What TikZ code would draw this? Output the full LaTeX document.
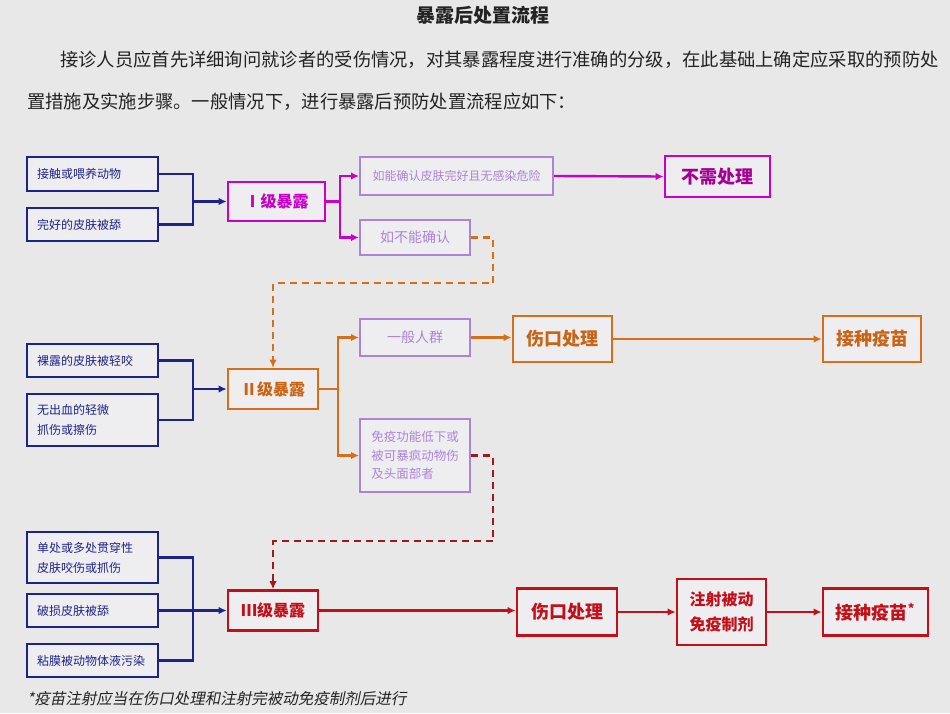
\documentclass[tikz,border=0pt]{standalone}
\usepackage{fontspec}
\setmainfont{Noto Sans CJK SC}
\newfontfamily\slantcjk[FakeSlant=0.2]{Noto Sans CJK SC}
\usepackage{tikz}
\usetikzlibrary{arrows.meta,calc,positioning}
\definecolor{bgc}{RGB}{232,232,232}
\definecolor{boxfill}{RGB}{238,238,240}
\definecolor{navyc}{RGB}{30,35,140}
\definecolor{magc}{RGB}{200,0,200}
\definecolor{magtext}{RGB}{165,0,150}
\definecolor{lavc}{RGB}{172,132,215}
\definecolor{orangec}{RGB}{215,110,25}
\definecolor{orangetext}{RGB}{200,100,20}
\definecolor{redc}{RGB}{195,15,25}
\definecolor{darkredc}{RGB}{160,25,30}
\definecolor{textc}{RGB}{35,35,35}

\begin{document}
\begin{tikzpicture}[x=1pt,y=-1pt,
    inbox/.style={draw=navyc, line width=2.2pt, fill=boxfill, text=navyc,
      font=\fontsize{12}{20}\selectfont, align=left, text width=111pt,
      inner xsep=10pt, inner ysep=0pt},
    lvbox/.style={line width=2.6pt, fill=boxfill, inner sep=0pt,
      font=\bfseries\fontsize{16}{20}\selectfont},
    lavbox/.style={draw=lavc, line width=2pt, fill=boxfill, text=lavc,
      inner sep=0pt, minimum width=110pt, align=left},
    endbox/.style={line width=2.8pt, fill=boxfill, inner sep=0pt,
      font=\bfseries\fontsize{18}{22}\selectfont, align=center},
    link/.style={line width=2.4pt},
    arr/.style={link, -{Latex[length=8pt,width=7.5pt]}},
    dashlink/.style={arr, dash pattern=on 7pt off 5pt}]
  % background and page text
  \fill[bgc] (0,0) rectangle (950,713);
  \useasboundingbox (0,0) rectangle (950,713);
  \node[font=\bfseries\fontsize{19}{22}\selectfont, text=textc] (title) at (483,15) {暴露后处置流程};
  \node[anchor=west, font=\fontsize{18.3}{22}\selectfont, text=textc, inner sep=0pt] (para1) at (60,60)
    {接诊人员应首先详细询问就诊者的受伤情况，对其暴露程度进行准确的分级，在此基础上确定应采取的预防处};
  \node[anchor=west, font=\fontsize{18.3}{22}\selectfont, text=textc, inner sep=0pt] (para2) at (27,102)
    {置措施及实施步骤。一般情况下，进行暴露后预防处置流程应如下：};

  % level I
  \node[inbox, minimum height=34pt] (in1a) at (92.5,174) {接触或喂养动物};
  \node[inbox, minimum height=33pt] (in1b) at (92.5,224.5) {完好的皮肤被舔};
  \node[lvbox, draw=magc, text=magc, minimum width=97pt, minimum height=39pt] (lv1) at (276.5,201.5) {Ⅰ级暴露};
  \node[lavbox, minimum width=193pt, minimum height=38pt, font=\fontsize{12}{16}\selectfont] (ok1) at (456.5,176) {如能确认皮肤完好且无感染危险};
  \node[lavbox, minimum height=35pt, font=\fontsize{14}{16}\selectfont] (no1) at (415,237.5) {如不能确认};
  \node[endbox, draw=magc, text=magtext, minimum width=105pt, minimum height=41pt] (none) at (717.5,176.5) {不需处理};
  \coordinate (j1) at (193,201.5);
  \coordinate (s1) at (340,201.5);
  \coordinate (d1) at (493,283);
  \draw[link, navyc] (in1a.east) -| (j1);
  \draw[link, navyc] (in1b.east) -| (j1);
  \draw[arr, navyc] (j1) -- (lv1.west);
  \draw[link, magc] (lv1.east) -- (s1);
  \draw[arr, magc] (s1) |- (ok1.west);
  \draw[arr, magc] (s1) |- (no1.west);
  \draw[arr, magc] (ok1.east) -- (none.west);

  % level II
  \node[inbox, minimum height=33pt] (in2a) at (92.5,360.5) {裸露的皮肤被轻咬};
  \node[inbox, minimum height=52pt] (in2b) at (92.5,420) {无出血的轻微\\抓伤或擦伤};
  \node[lvbox, draw=orangec, text=orangetext, minimum width=90pt, minimum height=40pt] (lv2) at (273,389) {Ⅱ级暴露};
  \node[lavbox, minimum height=37pt, font=\fontsize{14}{16}\selectfont] (gen2) at (415,337.5) {一般人群};
  \node[lavbox, minimum height=73pt, font=\fontsize{12.5}{18.5}\selectfont] (imm2) at (415,455.5) {免疫功能低下或\\被可暴疯动物伤\\及头面部者};
  \node[endbox, draw=orangec, text=orangetext, minimum width=99pt, minimum height=46pt] (wound2) at (562.5,339) {伤口处理};
  \node[endbox, draw=orangec, text=orangetext, minimum width=98pt, minimum height=46pt] (vac2) at (872,339) {接种疫苗};
  \coordinate (j2) at (193,389);
  \coordinate (s2) at (338,389);
  \coordinate (d2) at (493,541);
  \draw[dashlink, orangec] (no1.east) -| (d1) -| (lv2.north);
  \draw[link, navyc] (in2a.east) -| (j2);
  \draw[link, navyc] (in2b.east) -| (j2);
  \draw[arr, navyc] (j2) -- (lv2.west);
  \draw[link, orangec] (lv2.east) -- (s2);
  \draw[arr, orangec] (s2) |- (gen2.west);
  \draw[arr, orangec] (s2) |- (imm2.west);
  \draw[arr, orangec] (gen2.east) -- (gen2.east -| wound2.west);
  \draw[arr, orangec] (wound2.east) -- (vac2.west);

  % level III
  \node[inbox, minimum height=51pt] (in3a) at (92.5,557.5) {单处或多处贯穿性\\皮肤咬伤或抓伤};
  \node[inbox, minimum height=33pt] (in3b) at (92.5,610.5) {破损皮肤被舔};
  \node[inbox, minimum height=33pt] (in3c) at (92.5,660.5) {粘膜被动物体液污染};
  \node[lvbox, draw=redc, text=redc, minimum width=90pt, minimum height=40pt] (lv3) at (273,610.5) {Ⅲ级暴露};
  \node[endbox, draw=redc, text=redc, minimum width=100pt, minimum height=47pt] (wound3) at (567,612) {伤口处理};
  \node[endbox, draw=redc, text=redc, font=\bfseries\fontsize{16}{25}\selectfont, minimum width=89pt, minimum height=66pt] (serum3) at (721.5,612) {注射被动\\免疫制剂};
  \node[endbox, draw=redc, text=redc, minimum width=105pt, minimum height=47pt] (vac3) at (875.5,612) {接种疫苗\textsuperscript{*}};
  \coordinate (j3) at (193,610.5);
  \draw[dashlink, darkredc] (imm2.east) -| (d2) -| (lv3.north);
  \draw[link, navyc] (in3a.east) -| (j3);
  \draw[link, navyc] (in3c.east) -| (j3);
  \draw[arr, navyc] (in3b.east) -- (lv3.west);
  \draw[arr, redc] (lv3.east) -- (lv3.east -| wound3.west);
  \draw[arr, redc] (wound3.east) -- (serum3.west);
  \draw[arr, redc] (serum3.east) -- (vac3.west);

  % footnote
  \node[anchor=west, font=\slantcjk\fontsize{15.5}{18}\selectfont, text=textc, inner sep=0pt] (note) at (27,699)
    {*疫苗注射应当在伤口处理和注射完被动免疫制剂后进行};
\end{tikzpicture}
\end{document}
